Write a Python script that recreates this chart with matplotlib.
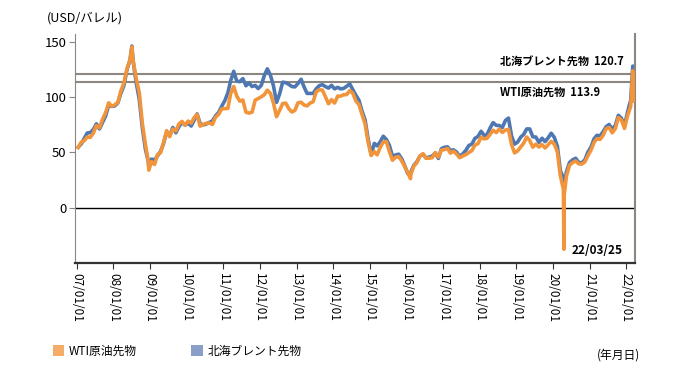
import datetime as dt
import matplotlib
matplotlib.use("Agg")
import matplotlib.pyplot as plt
import matplotlib.dates as mdates
from matplotlib.patches import Patch

plt.rcParams['font.family'] = ['Noto Sans CJK JP', 'DejaVu Sans']

# monthly values (approx.), Jan 2007 .. Mar 2022
wti_monthly = [
    54.5, 59.3, 60.4, 63.9, 63.5, 67.5, 74.1, 72.4, 79.9, 85.8, 94.8, 91.7,
    93.0, 95.4, 105.5, 112.6, 125.4, 133.9, 133.4, 116.7, 104.1, 76.6, 57.3, 41.1,
    41.7, 39.1, 47.9, 49.6, 59.0, 69.6, 64.2, 71.1, 69.4, 75.7, 78.0, 74.5,
    78.3, 76.4, 81.2, 84.3, 73.7, 75.3, 76.3, 76.6, 75.2, 81.9, 84.3, 89.2,
    89.6, 89.7, 102.9, 109.5, 100.9, 96.3, 97.3, 86.3, 85.5, 86.3, 97.2, 98.6,
    100.3, 102.2, 106.2, 103.3, 94.7, 82.3, 87.9, 94.1, 94.5, 89.5, 86.5, 87.9,
    94.8, 95.3, 92.9, 92.0, 94.5, 95.8, 104.6, 106.6, 106.3, 100.5, 93.9, 97.6,
    94.6, 100.8, 100.8, 102.1, 102.2, 105.8, 103.6, 96.5, 93.2, 84.4, 75.8, 59.3,
    47.2, 50.6, 47.8, 54.5, 59.3, 59.8, 50.9, 42.9, 45.5, 46.2, 42.4, 37.2,
    31.7, 30.3, 37.5, 40.8, 46.7, 48.8, 44.7, 44.7, 45.2, 49.8, 45.7, 52.0,
    52.5, 53.5, 49.3, 51.1, 48.5, 45.2, 46.6, 48.0, 49.8, 51.6, 56.6, 57.9,
    63.7, 62.2, 62.7, 66.3, 70.0, 67.9, 71.0, 68.1, 70.2, 70.8, 57.0, 49.5,
    51.4, 55.0, 58.2, 63.9, 60.8, 54.7, 57.4, 54.8, 57.0, 54.0, 57.0, 59.9,
    57.5, 50.5, 29.2, 16.6, 28.5, 38.3, 40.7, 42.3, 39.6, 39.4, 41.4, 47.0,
    52.0, 59.0, 62.3, 61.7, 65.2, 71.4, 72.5, 67.7, 71.6, 81.5, 79.2, 71.7,
    83.2, 91.6, 96.4,
]
brent_monthly = [
    54.6, 57.8, 62.4, 67.5, 67.9, 70.6, 75.8, 71.2, 77.1, 82.8, 92.5, 91.5,
    92.0, 94.8, 103.3, 110.4, 124.6, 133.5, 133.0, 113.2, 98.0, 72.5, 53.0, 41.3,
    43.9, 43.1, 46.8, 50.8, 57.9, 68.6, 64.9, 72.5, 67.7, 73.2, 77.0, 74.7,
    76.2, 73.8, 78.8, 84.8, 75.9, 74.8, 75.6, 77.1, 78.4, 83.0, 86.0, 91.5,
    96.5, 103.7, 114.6, 123.3, 114.5, 113.9, 116.7, 110.2, 112.8, 109.5, 110.5, 107.7,
    110.6, 119.7, 125.5, 119.8, 110.3, 95.2, 102.6, 113.4, 113.0, 111.5, 109.5, 109.2,
    112.3, 116.1, 109.5, 103.3, 103.3, 103.3, 107.4, 110.3, 111.2, 109.5, 108.1, 110.6,
    107.4, 108.8, 107.4, 107.8, 109.7, 111.9, 106.8, 101.6, 97.1, 87.4, 79.4, 62.3,
    47.8, 58.1, 55.9, 59.5, 64.6, 61.7, 56.5, 46.5, 47.6, 48.4, 44.3, 38.0,
    30.7, 32.2, 38.2, 41.6, 46.7, 48.3, 44.9, 45.8, 46.6, 49.5, 44.5, 53.3,
    54.6, 55.0, 51.6, 52.3, 50.3, 46.4, 48.5, 51.7, 56.2, 57.5, 62.7, 64.4,
    69.1, 65.3, 66.0, 72.1, 76.9, 74.4, 74.3, 72.5, 78.9, 81.0, 64.8, 57.4,
    59.4, 63.9, 66.1, 71.2, 71.2, 64.0, 63.9, 59.0, 62.8, 59.7, 63.2, 67.3,
    63.6, 55.5, 33.7, 26.6, 32.4, 40.8, 43.2, 44.7, 40.9, 40.5, 43.2, 50.2,
    54.8, 62.3, 65.4, 64.8, 68.5, 73.2, 75.2, 70.8, 74.5, 83.5, 80.9, 74.2,
    86.5, 97.1, 99.9,
]

# notable daily closes
extreme_dates = ["2008-07-03", "2008-12-19", "2016-02-11", "2020-04-20",
                 "2020-04-21", "2022-03-08", "2022-03-25"]
wti_extreme = [145.3, 33.9, 26.2, -37.6, 10.0, 123.7, 113.9]
brent_extreme = [146.1, 36.6, 30.1, 25.6, 19.3, 128.0, 120.7]

brent_last = 120.7
wti_last = 113.9
years = list(range(2007, 2023))

monthly_dates = [dt.date(2007 + i // 12, i % 12 + 1, 15) for i in range(len(wti_monthly))]
rows = list(zip(monthly_dates, wti_monthly, brent_monthly))
rows += [(dt.date.fromisoformat(d), w, b) for d, w, b in zip(extreme_dates, wti_extreme, brent_extreme)]
rows.sort()
dates = [r[0] for r in rows]
wti = [r[1] for r in rows]
brent = [r[2] for r in rows]

orange = "#F2943A"
blue = "#4F78B3"
gray = "#8C8680"

fig = plt.figure(figsize=(6.86, 3.74), dpi=100)
ax = fig.add_axes([75 / 686, 1 - 263 / 374, 560 / 686, 229 / 374])

ax.axhline(brent_last, color=gray, lw=1.5, zorder=1)
ax.axhline(wti_last, color=gray, lw=1.5, zorder=1)
ax.axhline(0, color="black", lw=1.0, zorder=1)
ax.plot(dates, brent, color=blue, lw=2.6, zorder=2, solid_joinstyle="round")
ax.plot(dates, wti, color=orange, lw=2.6, zorder=3, solid_joinstyle="round")

ax.set_xlim(dt.date(2006, 12, 14), dt.date(2022, 3, 30))
ax.set_ylim(-50, 157)
ax.set_yticks([0, 50, 100, 150])
ax.set_xticks([dt.date(y, 1, 1) for y in years])
ax.xaxis.set_major_formatter(mdates.DateFormatter("%y/%m/%d"))
ax.tick_params(axis="x", labelrotation=270, labelsize=8.5, length=4, pad=3, color="#333333")
ax.tick_params(axis="y", labelsize=9.5, length=4, pad=2, color=gray)

ax.spines["top"].set_visible(False)
ax.spines["left"].set_color(gray)
ax.spines["right"].set_color(gray)
ax.spines["right"].set_linewidth(1.5)
ax.spines["bottom"].set_color("#333333")
ax.spines["bottom"].set_linewidth(1.6)

fig.text(47 / 686, 1 - 18 / 374, "(USD/バレル)", fontsize=9, va="center")
fig.text(500 / 686, 1 - 61 / 374, "北海ブレント先物  %.1f" % brent_last,
         fontsize=8, fontweight="bold", va="center")
fig.text(500 / 686, 1 - 92 / 374, "WTI原油先物  %.1f" % wti_last,
         fontsize=8, fontweight="bold", va="center")
fig.text(572 / 686, 1 - 250 / 374, "22/03/25", fontsize=8.5, fontweight="bold", va="center")
fig.text(597 / 686, 1 - 355 / 374, "(年月日)", fontsize=8.5, va="center")

handles = [Patch(facecolor="#F5AC68", edgecolor="none", label="WTI原油先物"),
           Patch(facecolor="#8A9FC8", edgecolor="none", label="北海ブレント先物")]
fig.legend(handles=handles, loc="center left", bbox_to_anchor=(42 / 686, 1 - 351 / 374),
           ncol=2, frameon=False, fontsize=8.5, handlelength=1.0, handleheight=1.0,
           handletextpad=0.4, columnspacing=4.6)

fig.savefig("out.png", dpi=100)
